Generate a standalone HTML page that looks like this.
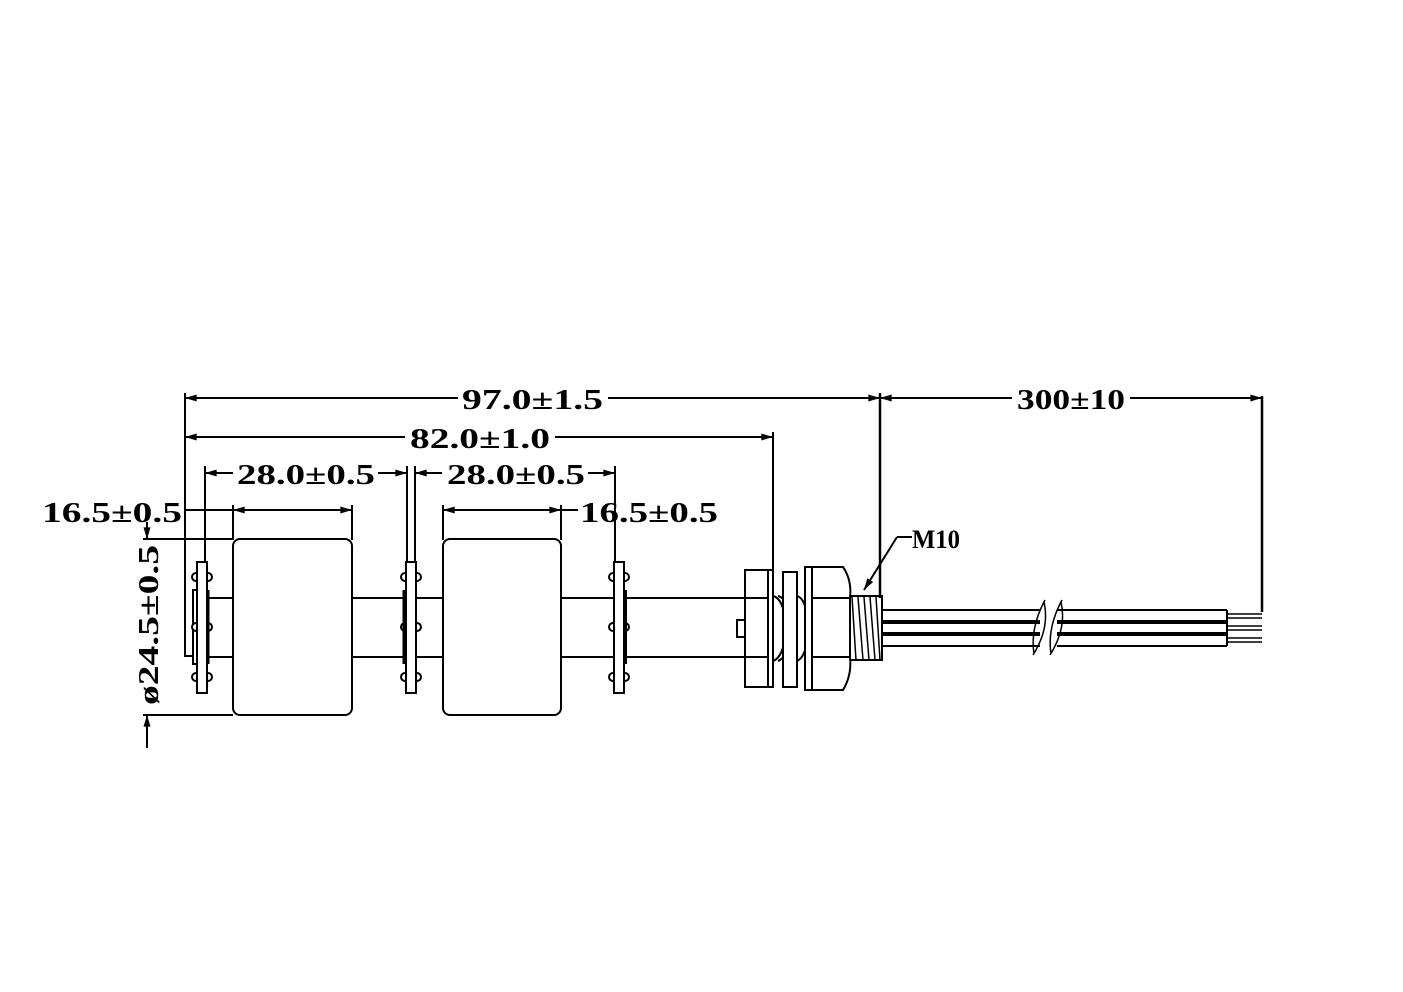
<!DOCTYPE html>
<html><head><style>body{margin:0;background:#fff}svg{display:block}text{font-family:"Liberation Serif",serif;font-weight:bold;font-size:29px;fill:#000}</style></head>
<body>
<svg width="1403" height="992" viewBox="0 0 1403 992" xmlns="http://www.w3.org/2000/svg">
<defs>
<marker id="a" viewBox="0 0 10 6" refX="10" refY="3" markerWidth="16" markerHeight="7" orient="auto-start-reverse" markerUnits="userSpaceOnUse"><path d="M0,0 L10,3 L0,6z" fill="#000"/></marker>
</defs>
<g stroke="#000" stroke-width="2" fill="none">
<line x1="185" y1="393" x2="185" y2="657"/>
<line x1="185" y1="656" x2="195" y2="656"/>
<line x1="185" y1="398" x2="458" y2="398" marker-start="url(#a)"/>
<line x1="608" y1="398" x2="880" y2="398" marker-end="url(#a)"/>
<line x1="880" y1="393" x2="880" y2="598" stroke-width="2.5"/>
<line x1="880" y1="398" x2="1012" y2="398" marker-start="url(#a)"/>
<line x1="1130" y1="398" x2="1262" y2="398" marker-end="url(#a)"/>
<line x1="1262" y1="396" x2="1262" y2="612" stroke-width="2.5"/>
<line x1="185" y1="437" x2="405" y2="437" marker-start="url(#a)"/>
<line x1="555" y1="437" x2="773" y2="437" marker-end="url(#a)"/>
<line x1="773" y1="432" x2="773" y2="570"/>
<line x1="205" y1="466" x2="205" y2="562"/>
<line x1="407" y1="466" x2="407" y2="562"/>
<line x1="415" y1="466" x2="415" y2="562"/>
<line x1="615" y1="466" x2="615" y2="562"/>
<line x1="205" y1="473" x2="233" y2="473" marker-start="url(#a)"/>
<line x1="378" y1="473" x2="407" y2="473" marker-end="url(#a)"/>
<line x1="415" y1="473" x2="442" y2="473" marker-start="url(#a)"/>
<line x1="588" y1="473" x2="615" y2="473" marker-end="url(#a)"/>
<line x1="233" y1="505" x2="233" y2="540"/>
<line x1="352" y1="505" x2="352" y2="540"/>
<line x1="443" y1="505" x2="443" y2="540"/>
<line x1="561" y1="505" x2="561" y2="540"/>
<line x1="184" y1="510" x2="352" y2="510" marker-end="url(#a)"/>
<line x1="233" y1="510" x2="260" y2="510" marker-start="url(#a)"/>
<line x1="443" y1="510" x2="578" y2="510" marker-start="url(#a)"/>
<line x1="540" y1="510" x2="561" y2="510" marker-end="url(#a)"/>
<line x1="143" y1="539" x2="233" y2="539"/>
<line x1="143" y1="715" x2="233" y2="715"/>
<line x1="147" y1="522" x2="147" y2="539" marker-end="url(#a)"/>
<line x1="147" y1="748" x2="147" y2="715" marker-end="url(#a)"/>
<line x1="193" y1="598" x2="745" y2="598"/>
<line x1="193" y1="657" x2="745" y2="657"/>
<rect x="193" y="590" width="6" height="74" fill="#fff"/>
<rect x="233" y="539" width="119" height="176" rx="7" fill="#fff"/>
<rect x="443" y="539" width="118" height="176" rx="7" fill="#fff"/>
<g fill="#fff">
<circle cx="196" cy="577" r="4"/><circle cx="208" cy="577" r="4"/>
<circle cx="196" cy="627" r="4"/><circle cx="208" cy="627" r="4"/>
<circle cx="196" cy="677" r="4"/><circle cx="208" cy="677" r="4"/>
<rect x="197" y="562" width="10" height="131"/>
<circle cx="405" cy="577" r="4"/><circle cx="417" cy="577" r="4"/>
<circle cx="405" cy="627" r="4"/><circle cx="417" cy="627" r="4"/>
<circle cx="405" cy="677" r="4"/><circle cx="417" cy="677" r="4"/>
<rect x="406" y="562" width="10" height="131"/>
<circle cx="613" cy="577" r="4"/><circle cx="625" cy="577" r="4"/>
<circle cx="613" cy="627" r="4"/><circle cx="625" cy="627" r="4"/>
<circle cx="613" cy="677" r="4"/><circle cx="625" cy="677" r="4"/>
<rect x="614" y="562" width="10" height="131"/>
</g>
<line x1="208" y1="590" x2="208" y2="664" stroke-width="3"/>
<line x1="404" y1="590" x2="404" y2="664" stroke-width="3"/>
<line x1="626" y1="590" x2="626" y2="664"/>
<rect x="737" y="620" width="8" height="17" fill="#fff"/>
<rect x="745" y="570" width="28" height="117" fill="#fff"/>
<line x1="768" y1="570" x2="768" y2="687"/>
<line x1="745" y1="598" x2="768" y2="598"/><line x1="745" y1="657" x2="768" y2="657"/>
<path d="M773,596 C790,600 790,655 773,661"/>
<path d="M778,596 C795,600 795,655 778,661"/>
<rect x="783" y="572" width="14" height="115" fill="#fff"/>
<path d="M797,596 C812,600 812,655 797,661"/>
<path d="M805,567 L843,567 Q852,580 850,598 L850,657 Q852,675 843,690 L805,690 Z" fill="#fff"/>
<line x1="812" y1="567" x2="812" y2="690"/>
<line x1="812" y1="598" x2="850" y2="598"/><line x1="812" y1="657" x2="850" y2="657"/>
<path d="M850,596 L882,596 L882,660 L850,660"/>
<path d="M852,597 L856,660 M858,597 L863,660 M864,597 L869,660 M870,597 L875,660 M876,597 L880,660" stroke-width="1.5"/>
<line x1="912" y1="537" x2="897" y2="537"/>
<line x1="897" y1="537" x2="864" y2="590" marker-end="url(#a)"/>
<line x1="882" y1="610" x2="1227" y2="610"/>
<line x1="882" y1="622" x2="1227" y2="622" stroke-width="4"/>
<line x1="882" y1="634" x2="1227" y2="634" stroke-width="4"/>
<line x1="882" y1="646" x2="1227" y2="646"/>
<line x1="1227" y1="610" x2="1227" y2="646"/>
<rect x="1040" y="605" width="17" height="45" fill="#fff" stroke="none"/>
<path d="M1045,600 Q1030,628 1034,654 M1044,602 Q1050,628 1033,655" stroke-width="1.5"/>
<path d="M1062,600 Q1047,628 1051,654 M1061,602 Q1067,628 1050,655" stroke-width="1.5"/>
<path d="M1227,614 L1262,614 M1227,618 L1262,618 M1227,626 L1262,626 M1227,630 L1262,630 M1227,638 L1262,638 M1227,642 L1262,642" stroke-width="1.5"/>
</g>
<g>
<text x="462" y="409" textLength="141" lengthAdjust="spacingAndGlyphs">97.0±1.5</text>
<text x="1017" y="409" textLength="108" lengthAdjust="spacingAndGlyphs">300±10</text>
<text x="410" y="448" textLength="140" lengthAdjust="spacingAndGlyphs">82.0±1.0</text>
<text x="237" y="484" textLength="138" lengthAdjust="spacingAndGlyphs">28.0±0.5</text>
<text x="447" y="484" textLength="138" lengthAdjust="spacingAndGlyphs">28.0±0.5</text>
<text x="42" y="522" textLength="140" lengthAdjust="spacingAndGlyphs">16.5±0.5</text>
<text x="580" y="522" textLength="138" lengthAdjust="spacingAndGlyphs">16.5±0.5</text>
<text x="912" y="548" textLength="48" lengthAdjust="spacingAndGlyphs" style="font-size:26px">M10</text>
<text transform="translate(158,705) rotate(-90)" textLength="160" lengthAdjust="spacingAndGlyphs">ø24.5±0.5</text>
</g>
</svg>
</body></html>
